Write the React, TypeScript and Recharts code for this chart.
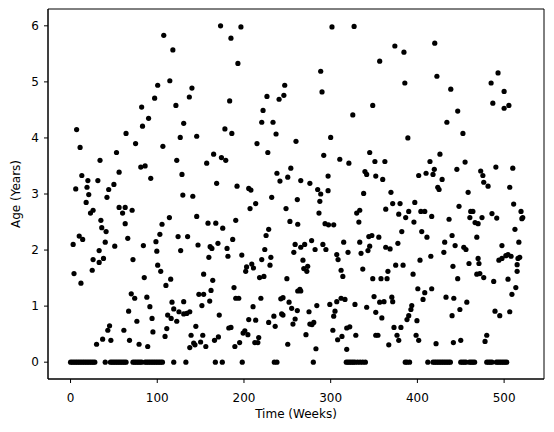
import { ScatterChart, Scatter, XAxis, YAxis, ReferenceArea } from 'recharts'

// semanas em que a idade é zero (linha de baixo)
const zeroWeeks = [
  0, 2, 4, 6, 8, 10, 12, 14, 16, 18, 20, 22, 24, 26, 28, 40,
  46, 48, 50, 52, 54, 56, 58, 60, 62, 64, 72, 74, 76, 78, 80, 82,
  86, 88, 90, 92, 94, 96, 98, 100, 102, 104, 106, 119, 133, 167, 175,
  198, 235, 238, 280, 318, 320, 322, 324, 326, 328, 331, 334, 337, 340,
  386, 388, 391, 412, 418, 420, 422, 424, 426, 428, 430, 432, 434, 436, 438,
  450, 452, 454, 456, 460, 462, 464, 466, 480, 482, 484, 486,
  491, 493, 495, 497, 499, 501, 503,
]

// [semana, idade]
const weeks0to100: [number, number][] = [
  [82, 4.55], [83, 4.21], [7, 4.15], [64, 4.08], [11, 3.83], [75, 3.9], [53, 3.74],
  [34, 3.6], [81, 3.48], [86, 3.5], [56, 3.39], [13, 3.33], [20, 3.24], [31.5, 3.24],
  [50, 3.17], [6, 3.09], [19, 3.12], [44, 3.08], [21, 2.99], [42, 2.94], [18, 2.85],
  [23, 2.66], [26, 2.71], [56, 2.76], [63, 2.76], [71, 2.71], [60, 2.66], [35, 2.53],
  [63, 2.47], [36, 2.4], [41, 2.33], [10, 2.25], [14, 2.19], [3, 2.1], [66, 2.21],
  [40, 2.14], [51, 2.07], [84, 2.08], [33, 1.99], [26, 1.83], [38, 1.85], [33, 1.78],
  [72, 1.83], [25, 1.64], [4, 1.58], [12, 1.41], [85, 1.51], [70, 1.22], [74, 1.14],
  [67, 0.91], [76.5, 0.73], [45, 0.65], [43, 0.57], [61.5, 0.57], [37, 0.41],
  [46.5, 0.39], [68, 0.39], [30, 0.32], [79, 0.32], [90, 4.35], [97, 4.71],
  [92.5, 3.28], [98.5, 2.15], [88, 1.16], [91.5, 0.99], [94, 0.78], [95, 0.54],
  [89, 0.28], [100.5, 4.94], [99.5, 1.98],
]

const weeks100to200: [number, number][] = [
  [173, 6.0], [107.5, 5.83], [118, 5.57], [114.5, 5.02], [140, 4.89], [137, 4.73],
  [121.5, 4.58], [130.5, 4.26], [126.5, 4.01], [145.5, 4.03], [106.5, 3.85], [165, 3.71],
  [122.5, 3.6], [157, 3.55], [174, 3.65], [128.5, 3.35], [168.5, 3.19], [129.5, 2.98],
  [141, 2.96], [114, 2.58], [145.5, 2.6], [105.5, 2.46], [158.5, 2.48], [167.5, 2.48],
  [103, 2.28], [124, 2.24], [135, 2.24], [147, 2.09], [161, 2.06], [163, 2.03],
  [170, 2.12], [127, 1.99], [159.5, 1.87], [100.5, 1.73], [104, 1.62], [153.5, 1.57],
  [115.5, 1.48], [164, 1.46], [110, 1.37], [148, 1.21], [153.5, 1.21], [162, 1.28],
  [117, 1.07], [130.5, 1.08], [160.5, 1.09], [151.5, 1.01], [119, 0.95], [125, 0.9],
  [137.5, 0.9], [112, 0.84], [116, 0.78], [130.5, 0.86], [134, 0.87], [171.5, 0.84],
  [122.5, 0.73], [111, 0.6], [144.5, 0.64], [109, 0.46], [139, 0.48], [152.5, 0.48],
  [170.5, 0.45], [166, 0.39], [142, 0.34], [150, 0.36], [143.5, 0.31], [137.5, 0.26],
  [156, 0.28], [196.5, 5.98], [185, 5.78], [193, 5.33], [183.5, 4.66], [178, 4.16],
  [186, 4.08], [179, 3.6], [192, 3.14], [175.5, 2.39], [190.5, 2.53], [187, 2.19],
  [180.5, 2.03], [181.5, 1.89], [197.5, 1.91], [188.5, 1.33], [190.5, 1.14], [194, 1.14],
  [185, 0.62], [182.5, 0.61], [199, 0.52], [195, 0.35], [189.5, 0.28],
]

const weeks200to300: [number, number][] = [
  [247, 4.94], [226.5, 4.74], [246, 4.76], [240.5, 4.69], [222, 4.49], [220.5, 4.28],
  [233.5, 4.28], [237, 4.07], [260, 3.94], [215, 3.9], [227.5, 3.74], [238, 3.37],
  [254, 3.46], [241.5, 3.23], [250.5, 3.3], [205.5, 3.1], [208, 3.07], [232, 2.94],
  [261.5, 2.9], [213.5, 2.83], [207, 2.74], [248.5, 2.74], [253, 2.51], [262, 2.46],
  [228.5, 2.37], [225.5, 2.26], [259, 2.1], [224, 2.01], [257.5, 1.96], [231, 1.87],
  [220.5, 1.83], [203, 1.7], [209, 1.75], [211, 1.68], [230, 1.73], [202, 1.62],
  [218, 1.51], [223, 1.53], [249.5, 1.49], [219.5, 1.14], [242.5, 1.13], [245, 1.15],
  [252, 1.07], [210.5, 0.99], [255, 0.96], [261.5, 0.92], [262, 1.27], [234.5, 0.82],
  [243.5, 0.86], [245, 0.84], [205.5, 0.76], [213.5, 0.75], [228.5, 0.71], [259, 0.77],
  [256.5, 0.68], [236, 0.64], [201, 0.56], [204.5, 0.49], [217, 0.44], [212.5, 0.35],
  [216, 0.35], [250.5, 0.32], [288.5, 5.19], [290, 4.82], [292, 3.69], [297, 3.32],
  [265.5, 3.24], [276, 3.19], [285, 3.08], [288.5, 3.0], [297, 3.06], [287.5, 2.87],
  [286.5, 2.66], [293.5, 2.47], [297.5, 2.45], [278, 2.17], [265.5, 2.05], [270, 2.1],
  [291, 2.1], [282, 2.01], [294.5, 2.01], [268, 1.82], [269, 1.67], [273.5, 1.71],
  [272.5, 1.62], [264.5, 1.3], [265.5, 1.27], [299, 1.03], [284, 1.01], [275, 0.9],
  [276, 0.68], [278.5, 0.67], [280.5, 0.71], [271.5, 0.49], [283, 0.24],
]

const weeks300to400: [number, number][] = [
  [301.5, 5.98], [327, 5.99], [348.5, 4.58], [325.5, 4.41], [300, 4.01], [310.5, 3.62],
  [321, 3.55], [345, 3.74], [351, 3.58], [339.5, 3.4], [341.5, 3.35], [352, 3.32],
  [338, 3.01], [330, 2.66], [333.5, 2.71], [332.5, 2.5], [303.5, 2.45], [344, 2.24],
  [347.5, 2.26], [315, 2.14], [333.5, 2.14], [307, 1.92], [320, 1.96], [335, 1.94],
  [343, 1.99], [345, 2.07], [308.5, 1.83], [312, 1.64], [314, 1.53], [337, 1.66],
  [348.5, 1.49], [350, 1.17], [312, 1.14], [316.5, 1.12], [307, 1.08], [328, 1.03],
  [341.5, 0.98], [305, 0.91], [303.5, 0.82], [352, 0.89], [302.5, 0.57], [318.5, 0.61],
  [322, 0.63], [308, 0.4], [313, 0.46], [329, 0.48], [352, 0.48], [318.5, 0.23],
  [374, 5.64], [384.5, 5.53], [356.5, 5.37], [385.5, 4.98], [389, 4.0], [362.5, 3.58],
  [360, 3.26], [369.5, 3.03], [371.5, 2.83], [380, 2.83], [397, 2.85], [363.5, 2.73],
  [378.5, 2.64], [386.5, 2.58], [390, 2.69], [396, 2.5], [382, 2.33], [355.5, 2.23],
  [377.5, 2.12], [363.5, 2.05], [368.5, 2.02], [375, 1.73], [383.5, 1.73], [366, 1.62],
  [395, 1.57], [358, 1.49], [365, 1.49], [370.5, 1.16], [371.5, 1.08], [356.5, 1.07],
  [361.5, 1.08], [393.5, 1.01], [392.5, 0.94], [390, 0.83], [388, 0.76], [359, 0.79],
  [399.5, 0.74], [373, 0.62], [381, 0.62], [354.5, 0.48], [376.5, 0.48], [378.5, 0.39],
  [398.5, 0.48], [367, 0.31],
]

const weeks400to520: [number, number][] = [
  [420, 5.69], [422.5, 5.1], [438.5, 4.87], [434, 4.28], [426, 3.71], [414.5, 3.58],
  [419.5, 3.44], [418, 3.35], [410, 3.37], [401.5, 3.33], [428.5, 3.26], [423.5, 3.12],
  [425, 3.08], [404, 2.69], [408.5, 2.69], [416.5, 2.6], [436.5, 2.55], [405, 2.33],
  [411, 2.23], [440, 2.26], [431.5, 2.14], [430.5, 1.96], [415.5, 1.89], [403, 1.82],
  [441, 1.71], [400.5, 1.31], [416.5, 1.31], [408.5, 1.24], [406.5, 1.12], [433, 1.16],
  [442, 1.14], [440, 0.83], [401.5, 0.39], [421.5, 0.33], [441.5, 0.35],
  [493, 5.16], [485, 4.98], [500, 4.83], [487, 4.62], [500, 4.53], [505.5, 4.58],
  [446.5, 4.48], [452.5, 4.08], [455, 3.57], [445.5, 3.44], [473, 3.41], [475.5, 3.33],
  [476.5, 3.21], [481.5, 3.14], [490.5, 3.48], [510, 3.46], [506.5, 3.12], [458.5, 3.03],
  [448, 2.78], [511, 2.82], [461.5, 2.69], [464, 2.69], [460.5, 2.58], [466.5, 2.49],
  [470, 2.47], [474.5, 2.58], [486, 2.65], [491.5, 2.57], [519.5, 2.69], [521.5, 2.58],
  [520.5, 2.56], [512.5, 2.37], [468.5, 2.23], [443.5, 2.08], [517, 2.14], [453.5, 2.05],
  [456, 2.01], [497.5, 2.08], [494, 1.82], [497.5, 1.85], [502, 1.9], [508, 1.89],
  [504.5, 1.92], [516, 1.85], [518, 1.87], [515, 1.74], [470, 1.85], [471, 1.76],
  [459.5, 1.76], [515, 1.62], [468.5, 1.57], [472, 1.58], [476.5, 1.51], [446.5, 1.49],
  [488, 1.44], [504.5, 1.48], [513.5, 1.33], [509, 1.21], [457, 1.07], [449, 0.94],
  [489.5, 0.91], [495, 0.83], [506.5, 0.9], [450, 0.39], [478, 0.37], [480, 0.48],
]

const xTicks = [0, 100, 200, 300, 400, 500]
const yTicks = [0, 1, 2, 3, 4, 5, 6]

const data = [
  ...zeroWeeks.map((w) => ({ week: w, age: 0 })),
  ...[...weeks0to100, ...weeks100to200, ...weeks200to300, ...weeks300to400, ...weeks400to520].map(
    ([w, a]) => ({ week: w, age: a })
  ),
]

const font = { fill: '#000', fontSize: 12, fontFamily: 'DejaVu Sans' }

export default function App() {
  return (
    <div style={{ position: 'absolute', left: 0, top: 0, background: '#fff' }}>
      <ScatterChart width={554} height={432} margin={{ top: 9, right: 10, bottom: 0, left: 0 }}>
        <XAxis
          type="number"
          dataKey="week"
          domain={[-26, 546]}
          ticks={xTicks}
          allowDataOverflow
          height={53}
          tick={font}
          tickSize={4}
          tickMargin={10}
          stroke="#000"
          tickLine={{ stroke: '#000' }}
          axisLine={{ stroke: '#000' }}
          label={{ value: 'Time (Weeks)', position: 'insideBottom', offset: 14, style: { ...font } }}
        />
        <YAxis
          type="number"
          dataKey="age"
          domain={[-0.3, 6.3]}
          ticks={yTicks}
          allowDataOverflow
          width={48}
          tick={font}
          tickSize={4}
          tickMargin={5}
          stroke="#000"
          tickLine={{ stroke: '#000' }}
          axisLine={{ stroke: '#000' }}
          label={{
            value: 'Age (Years)',
            angle: -90,
            position: 'insideLeft',
            offset: 16,
            style: { ...font, textAnchor: 'middle' },
          }}
        />
        <ReferenceArea
          x1={-26}
          x2={546}
          y1={-0.3}
          y2={6.3}
          fill="none"
          stroke="#000"
          strokeWidth={1}
          ifOverflow="visible"
        />
        <Scatter
          data={data}
          isAnimationActive={false}
          shape={(p: any) => <circle cx={p.cx} cy={p.cy} r={2.6} fill="#000" />}
        />
      </ScatterChart>
    </div>
  )
}
